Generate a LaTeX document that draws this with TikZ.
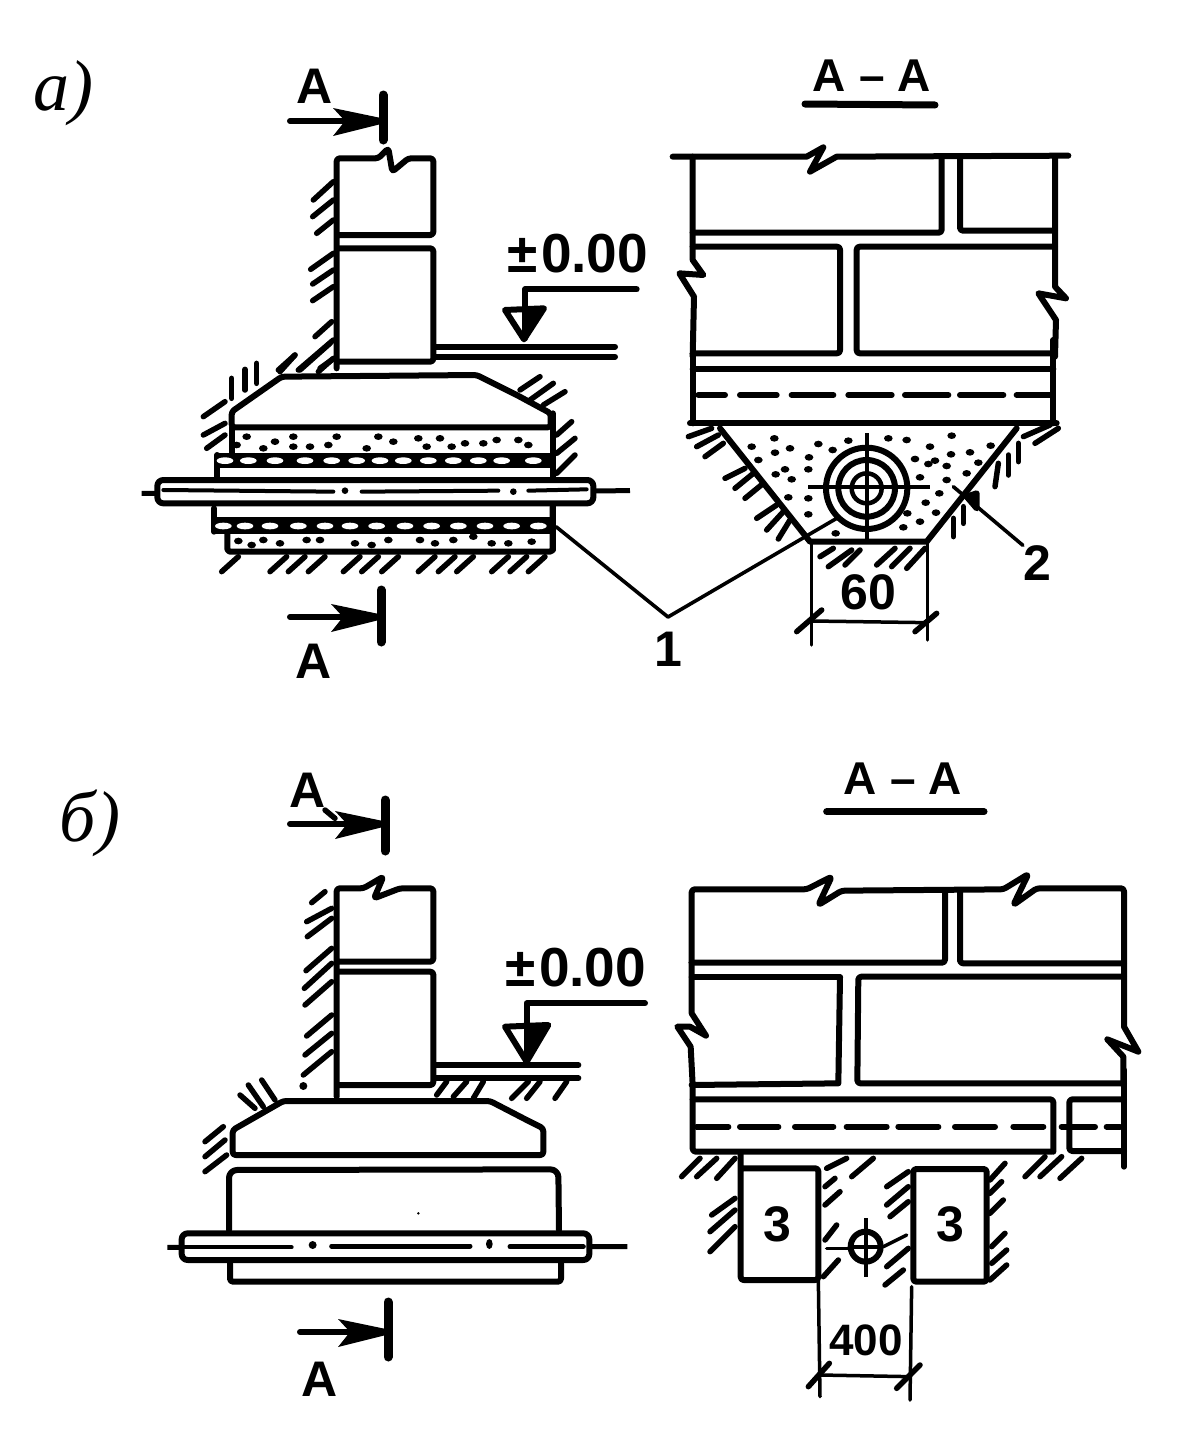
\documentclass[tikz,border=0pt]{standalone}
\usepackage{fontspec}
\setmainfont{Liberation Sans}
\newfontfamily\handfont{Liberation Serif}
\newcommand{\fsz}[1]{\fontsize{#1}{#1}\selectfont}
\newcommand{\sectitle}{A\hspace{13pt}–\hspace{13pt}A}
\tikzset{
  mainln/.style={line width=6pt,line join=round,line cap=round},
  fineln/.style={line width=3.5pt,line join=round,line cap=round},
  hatchln/.style={line width=5.5pt,line cap=round},
  labelA/.style={inner sep=0pt,font=\bfseries\fsz{50}},
  labelT/.style={inner sep=0pt,font=\bfseries\fsz{46}},
  labelN/.style={inner sep=0pt,font=\bfseries\fsz{50}},
  labelL/.style={inner sep=0pt,font=\bfseries\fsz{55}},
  labelH/.style={inner sep=0pt,font=\handfont\itshape\fsz{72}},
  rnd/.style={rounded corners=3pt},
  zm/.style={x=0.33333pt,y=-0.33333pt}
}
\newcommand{\hatchset}[1]{\foreach \a/\b/\c/\d in {#1} \draw[hatchln] (\a,\b)--(\c,\d);}
\newcommand{\sandset}[1]{\foreach \a/\b in {#1} \fill (\a,\b) ellipse (13 and 10);}
\newcommand{\lensset}[2]{\foreach \a in {#2} \fill[white] (\a,#1) ellipse (25 and 10);}
\newcommand{\dashset}[2]{\foreach \a/\b in {#2} \draw[hatchln,line width=6pt] (\a,#1)--(\b,#1);}
% section mark: x of bar, y of shaft, shaft length, bar top, bar bottom
\newcommand{\secmark}[5]{%
  \begin{scope}[shift={(#1,#2)}]
    \draw[line width=6pt,line cap=round] (-#3,0)--(-20,0);
    \fill (-50,-13)--(-2,-3)--(-2,3)--(-50,15)--(-38,0)--cycle;
    \draw[line width=9pt,line cap=round] (0,#4)--(0,#5);
  \end{scope}}
\begin{document}
\begin{tikzpicture}[x=1pt,y=-1pt]
\useasboundingbox (0,0) rectangle (1204,1451);
\fill[white] (0,0) rectangle (1204,1451);

% ---------- panel labels
\node[labelH] (la) at (63,93) {а)};
\node[labelH] (lb) at (90,823) {б)};

% ---------- a) left: wall
\begin{scope}[shift={(270,60)},zm]
  \draw[mainln,rnd] (200,925)--(200,295)--(325,295)--(355,265)--(367,335)--(415,295)--(490,295)--(490,525)--(205,525);
  \draw[mainln,rnd] (205,565)--(490,565)--(490,905)--(205,905);
  \draw[mainln] (500,860)--(1035,860);
  \draw[mainln] (500,890)--(1035,890);
  \hatchset{190/365/130/420,190/420/128/470,190/480/140/520,190/580/122/628,190/630/128/672,190/680/128/722,185/785/135/830,190/840/85/930,190/895/145/935,75/885/25/930}
  % level mark
  \draw[mainln] (1100,688)--(765,688)--(765,835);
  \draw[mainln] (762,838)--(705,750)--(822,745)--cycle;
  \fill (765,750)--(822,745)--(762,838)--cycle;
\end{scope}
\node[labelA] (a1) at (315,86) {A};
\secmark{383}{121}{93}{-26}{19}
\node[labelL] (lev1) at (578,254) {±\hspace{3pt}0.00};

% ---------- a) left: footing
\begin{scope}[shift={(130,340)},zm]
  \draw[mainln,rnd] (305,262)--(305,215)--(455,110)--(1040,105)--(1160,165)--(1262,220)--(1262,262)--cycle;
  \draw[mainln] (305,262)--(305,340);
  \draw[mainln] (1268,220)--(1268,630);
  \fill (255,340) rectangle (1262,385);
  \draw[mainln] (262,345)--(262,415);
  \lensset{362}{285,355,435,525,605,680,750,820,895,970,1045,1115,1210}
  \sandset{350/290,435/305,320/315,400/325,490/290,490/320,540/320,595/315,620/290,710/325,745/290,790/305,865/295,890/320,930/295,965/320,1005/310,1060/310,1100/300,1165/300,1195/315}
  % pipe
  \draw[line width=5pt] (35,460)--(1500,452);
  \draw[mainln,fill=white,rounded corners=6pt] (82,420) rectangle (1390,490);
  \draw[line width=4pt,line cap=round] (100,450)--(610,455);
  \draw[line width=4pt,line cap=round] (695,455)--(1105,452);
  \draw[line width=4pt,line cap=round] (1195,452)--(1370,448);
  \fill (645,452) circle (10);
  \fill (1150,455) circle (10);
  % lower layers
  \draw[mainln] (252,505)--(252,575);
  \fill (250,530) rectangle (1268,582);
  \lensset{558}{280,345,420,505,585,660,740,825,905,985,1065,1145,1225}
  \draw[mainln,rnd] (292,582)--(292,635)--(1268,635)--(1268,500);
  \sandset{325/603,365/615,400/600,450/610,530/600,570/600,675/610,725/615,775/600,870/600,915/610,970/600,1030/590,1085/610,1135/610,1205/605}
  \hatchset{305/175/305/115,345/150/345/88,380/130/380/70,285/185/220/230,285/250/220/285,285/285/230/325,1170/150/1230/110,1200/180/1270/130,1240/195/1305/155,1280/285/1325/245,1280/340/1335/295,1280/400/1335/345,450/95/495/45,510/90/600/10,570/85/605/60}
  \foreach \t in {325,470,525,585,690,745,805,915,975,1030,1135,1190,1245}
    \draw[hatchln] (\t,650)--({\t-50},695);
  \coordinate (lead1a) at (1278,560);
\end{scope}
\secmark{381}{617}{91}{-27}{25}
\node[labelA] (a2) at (314,661) {A};

% ---------- a) right: brickwork
\node[labelT] (t1) at (872,76) {\sectitle};
\begin{scope}[shift={(670,60)},zm]
  \draw[line width=7pt,line cap=round] (405,132)--(795,135);
  \draw[mainln] (8,290)--(410,290)--(460,262)--(420,335)--(500,290)--(1195,287);
  \draw[mainln] (68,290)--(68,600)--(100,645)--(28,640)--(72,710)--(68,890);
  \draw[mainln] (1155,290)--(1155,680)--(1188,715)--(1105,700)--(1158,780)--(1155,890);
  \draw[mainln,rnd] (68,518)--(815,518)--(815,295);
  \draw[mainln,rnd] (870,295)--(870,512)--(1155,512);
  \draw[mainln,rnd] (68,560)--(510,560)--(510,880)--(68,880);
  \draw[mainln,rnd] (1155,560)--(560,560)--(560,880)--(1155,880);
\end{scope}
\begin{scope}[shift={(670,340)},zm]
  \draw[mainln] (68,88)--(1150,88);
  \draw[mainln] (68,0)--(68,250);
  \draw[mainln] (1150,0)--(1150,250);
  \draw[mainln] (60,250)--(1160,250);
  \dashset{165}{85/165,210/320,365/490,535/665,705/835,870/1000,1040/1140}
  \draw[mainln] (150,265)--(420,605)--(770,605)--(1040,265);
  \sandset{313/295,245/320,315/338,360/325,265/360,445/312,488/330,535/302,417/352,415/388,345/388,317/403,365/418,355/472,415/475,415/523,497/580,655/295,710/300,780/320,845/287,843/343,900/337,962/317,735/357,795/362,775/372,830/378,925/368,890/400,750/412,830/420,808/460,767/488,712/520,798/518,750/545,700/562}
  \draw[mainln] (590,445) circle (122);
  \draw[mainln] (590,445) circle (85);
  \draw[mainln,line width=4.5pt] (590,445) circle (45);
  \draw[line width=4pt] (415,442)--(780,442);
  \draw[line width=4pt] (590,280)--(590,605);
  \coordinate (lead1b) at (500,535);
  \coordinate (lead2a) at (850,440);
  \hatchset{125/265/55/290,145/285/80/320,160/310/105/350,225/385/165/415,250/400/195/445,280/430/225/475,320/495/260/535,340/515/290/570,360/540/325/597,1060/290/1140/255,1095/310/1165/265,1045/310/1045/365,1015/345/1015/405,985/370/975/440,880/500/880/550,850/535/850/590,490/625/450/650,545/630/475/680,570/630/525/675,675/625/620/675,720/625/665/680,765/625/710/685}
  \draw[mainln,fill] (890,470)--(920,460)--(920,505)--cycle;
  % dimension 60
  \draw[fineln] (425,605)--(425,915);
  \draw[fineln] (772,605)--(772,900);
  \draw[fineln] (425,843)--(772,848);
  \draw[hatchln] (455,810)--(380,875);
  \draw[hatchln] (800,820)--(735,875);
\end{scope}
\node[labelN] (d60) at (868,592) {60};
\node[labelN] (n1) at (668,649) {1};
\node[labelN] (n2) at (1037,563) {2};
\coordinate (v1) at (668,617);
\draw[fineln,line width=3.6pt] (lead1a)--(v1);
\draw[fineln,line width=3.6pt] (v1)--(lead1b);
\draw[fineln,line width=3.6pt] (lead2a)--(n2.north west);

% ---------- b) left: wall
\begin{scope}[shift={(270,760)},zm]
  \draw[mainln,rnd] (200,1010)--(200,385)--(280,385)--(340,350)--(312,415)--(390,385)--(490,385)--(490,605)--(205,605);
  \draw[mainln,rnd] (205,635)--(490,635)--(490,975)--(205,975);
  \draw[mainln] (500,915)--(925,915);
  \draw[mainln] (500,955)--(925,955);
  \hatchset{165/395/125/428,185/445/110/485,185/475/112/530,185/565/108/632,185/610/103/685,185/665/105/735,185/765/110/828,185/820/105/885,185/875/100/945,530/965/500/1005,590/965/550/1010,640/965/610/1015,775/965/725/1015,810/965/770/1015,890/965/855/1015}
  \fill (100,978) circle (12);
  \draw[hatchln] (165,150)--(195,175);
  \draw[mainln] (1125,730)--(770,730)--(770,905);
  \draw[mainln] (770,905)--(705,800)--(835,795)--cycle;
  \fill (772,800)--(835,795)--(770,905)--cycle;
\end{scope}
\node[labelA] (b1) at (308,790) {A};
\secmark{385}{824}{95}{-24}{27}
\node[labelL] (lev2) at (576,968) {±\hspace{3pt}0.00};

% ---------- b) left: footing
\begin{scope}[shift={(160,1040)},zm]
  \draw[mainln,rnd] (218,345)--(218,270)--(370,183)--(990,183)--(1100,240)--(1150,265)--(1150,345)--cycle;
  \draw[mainln,rnd,rounded corners=8pt] (207,570)--(207,390)--(1195,388)--(1197,570);
  \draw[line width=5pt] (22,622)--(1402,620);
  \draw[mainln,fill=white,rounded corners=6pt] (65,580) rectangle (1288,660);
  \draw[line width=4pt,line cap=round] (30,622)--(395,622);
  \draw[line width=5pt,line cap=round] (515,618)--(930,618);
  \draw[line width=5pt,line cap=round] (1050,620)--(1270,620);
  \fill (458,615) circle (12);
  \fill (988,612) ellipse (10 and 15);
  \draw[mainln,rnd] (210,670)--(210,725)--(1203,725)--(1203,670);
  \fill (775,520) circle (4);
  \hatchset{345/180/305/120,310/200/265/135,285/205/240/165,190/260/135/305,195/300/135/350,200/345/135/395}
\end{scope}
\secmark{388}{1332}{88}{-30}{25}
\node[labelA] (b2) at (320,1379) {A};

% ---------- b) right: brickwork
\node[labelT] (t2) at (903,779) {\sectitle};
\begin{scope}[shift={(670,770)},zm]
  \draw[line width=7pt,line cap=round] (470,125)--(942,125);
  \draw[mainln,rnd] (65,578)--(65,358)--(410,358)--(485,320)--(445,405)--(515,362)--(1000,358)--(1075,312)--(1030,405)--(1100,355)--(1362,355)--(1362,620);
  \draw[mainln,rnd] (65,578)--(825,578)--(825,360);
  \draw[mainln,rnd] (870,360)--(870,580)--(1362,580);
  \draw[mainln] (65,622)--(510,622);
  \draw[mainln] (510,622)--(505,940)--(65,945);
  \draw[mainln] (65,578)--(65,730)--(108,797)--(60,770)--(22,770)--(62,830)--(68,945);
  \draw[mainln,rnd] (1362,620)--(565,620)--(562,940)--(1362,940);
  \draw[mainln] (1362,620)--(1362,770)--(1405,845)--(1312,808)--(1360,860)--(1360,945);
\end{scope}
\begin{scope}[shift={(670,1050)},zm]
  \draw[mainln,rnd] (68,148)--(1150,148)--(1150,305);
  \draw[mainln,rnd] (68,100)--(68,305)--(1145,305);
  \draw[mainln,rnd] (1362,148)--(1198,148)--(1198,303)--(1362,303);
  \draw[mainln] (1362,60)--(1362,350);
  \dashset{230}{80/175,210/325,375/490,530/650,685/805,855/975,1030/1120,1175/1275,1310/1350}
  \draw[mainln,rnd] (212,310)--(212,690)--(445,690)--(445,355)--(220,355);
  \draw[mainln,rnd] (730,357)--(950,357)--(950,695)--(730,695)--cycle;
  \hatchset{90/325/35/380,140/325/80/380,195/325/140/385,195/445/125/495,195/480/120/545,195/530/120/605,530/325/470/355,610/325/545/380,495/385/465/410,510/425/465/465,500/525/465/570,505/630/460/680,715/365/650/410,715/410/650/465,715/455/660/500,715/595/650/650,700/660/645/705,1005/340/960/390,995/395/960/430,1000/450/960/490,1005/550/965/590,1010/600/965/640,1010/645/960/690,1125/320/1065/380,1175/320/1110/380,1235/325/1170/385}
  % small pipe
  \draw[mainln] (587,590) circle (45);
  \draw[line width=4pt] (587,505)--(587,680);
  \draw[line width=4pt] (540,592)--(634,592);
  \draw[fineln] (470,595)--(540,595);
  \draw[fineln] (640,590)--(710,555);
  % dimension 400
  \draw[fineln] (445,690)--(450,1040);
  \draw[fineln] (725,710)--(720,1050);
  \draw[fineln] (450,975)--(722,980);
  \draw[hatchln] (478,940)--(415,1010);
  \draw[hatchln] (750,945)--(680,1015);
\end{scope}
\node[labelN] (n3a) at (777,1224) {3};
\node[labelN] (n3b) at (950,1224) {3};
\node[labelN,font=\bfseries\fsz{44}] (d400) at (866,1340) {400};
\end{tikzpicture}
\end{document}
